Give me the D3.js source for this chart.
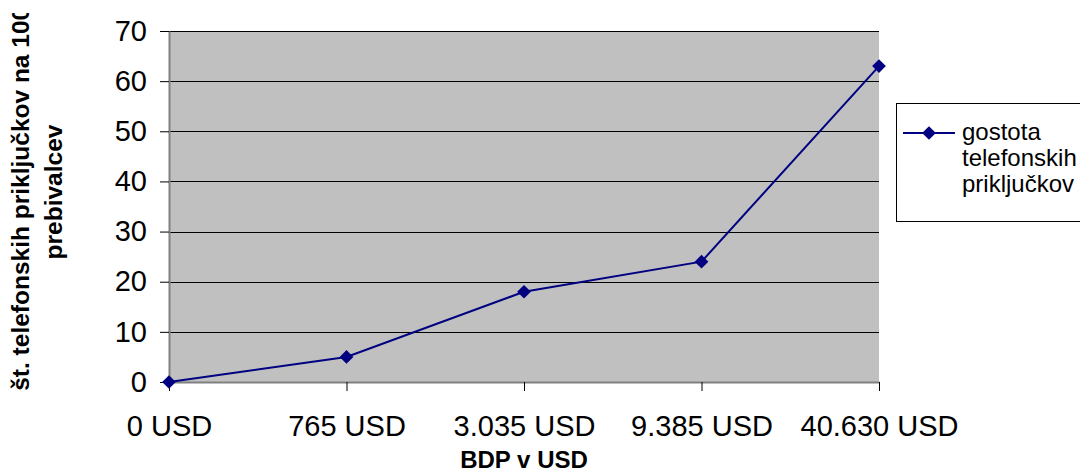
<!DOCTYPE html>
<html>
<head>
<meta charset="utf-8">
<script src="https://cdn.jsdelivr.net/npm/d3@7"></script>
<style>
  html, body { margin: 0; padding: 0; background: #fff; overflow: hidden; }
  svg { display: block; font-family: "Liberation Sans", Arial, sans-serif; }
</style>
</head>
<body>
<svg id="chart" width="1080" height="471"></svg>
<script>
// GDP categories and telephone line density (lines per 1000 inhabitants)
const categories = ["0 USD", "765 USD", "3.035 USD", "9.385 USD", "40.630 USD"];
const density = [0, 5, 18, 24, 63];
const yTicks = [0, 10, 20, 30, 40, 50, 60, 70];
const seriesName = ["gostota", "telefonskih", "priključkov"];
const xTitle = "BDP v USD";
const yTitle = ["št. telefonskih priključkov na 1000", "prebivalcev"];

const svg = d3.select("#chart");
const plot = { left: 169, right: 879, top: 31, bottom: 382 };
const navy = "#000080";

const x = d3.scalePoint().domain(categories).range([plot.left, plot.right]).padding(0);
const y = d3.scaleLinear().domain([0, 70]).range([plot.bottom, plot.top]);

// plot area background
svg.append("rect")
  .attr("x", plot.left).attr("y", plot.top)
  .attr("width", plot.right - plot.left).attr("height", plot.bottom - plot.top)
  .attr("fill", "#c0c0c0");

// horizontal gridlines
svg.append("g")
  .selectAll("line")
  .data(yTicks.filter(d => d > 0))
  .join("line")
  .attr("x1", plot.left).attr("x2", plot.right)
  .attr("y1", d => Math.round(y(d)) + 0.5).attr("y2", d => Math.round(y(d)) + 0.5)
  .attr("stroke", "#000").attr("stroke-width", 1);

// y axis
const yAxis = svg.append("g")
  .attr("transform", `translate(${plot.left},0)`)
  .call(d3.axisLeft(y).tickValues(yTicks).tickSize(9).tickPadding(13).tickSizeOuter(0));
yAxis.select(".domain").attr("stroke", "#808080").attr("stroke-width", 2);
yAxis.selectAll(".tick line").attr("stroke", "#000");
yAxis.selectAll(".tick text")
  .attr("font-size", 29).attr("fill", "#000")
  .attr("font-family", "'Liberation Sans', Arial, sans-serif");

// x axis
const xAxis = svg.append("g")
  .attr("transform", `translate(0,${plot.bottom})`)
  .call(d3.axisBottom(x).tickSize(9).tickPadding(24).tickSizeOuter(0));
xAxis.select(".domain").attr("stroke", "#808080").attr("stroke-width", 2);
xAxis.selectAll(".tick line").attr("stroke", "#000");
xAxis.selectAll(".tick text")
  .attr("font-size", 29).attr("fill", "#000")
  .attr("font-family", "'Liberation Sans', Arial, sans-serif");

// data line
const line = d3.line().x((d, i) => x(categories[i])).y(d => y(d));
svg.append("path")
  .datum(density)
  .attr("d", line)
  .attr("fill", "none")
  .attr("stroke", navy)
  .attr("stroke-width", 2);

// diamond markers
const diamond = d3.symbol().type(d3.symbolDiamond2).size(120);
svg.append("g")
  .selectAll("path")
  .data(density)
  .join("path")
  .attr("d", diamond)
  .attr("transform", (d, i) => `translate(${x(categories[i])},${y(d)})`)
  .attr("fill", navy);

// axis titles
svg.append("text")
  .attr("x", (plot.left + plot.right) / 2).attr("y", 468)
  .attr("text-anchor", "middle")
  .attr("font-size", 24).attr("font-weight", "bold")
  .text(xTitle);

// the vertical title is clipped by the chart area's top edge
svg.append("clipPath").attr("id", "chartArea")
  .append("rect").attr("x", 0).attr("y", 13).attr("width", 1080).attr("height", 458);

const yt = svg.append("g")
  .attr("clip-path", "url(#chartArea)")
  .append("text")
  .attr("transform", "translate(29,192) rotate(-90)")
  .attr("text-anchor", "middle")
  .attr("font-size", 24.5).attr("font-weight", "bold");
yTitle.forEach((t, i) => {
  yt.append("tspan").attr("x", 0).attr("y", i * 33).text(t);
});

// legend
const legend = svg.append("g");
legend.append("rect")
  .attr("x", 896.5).attr("y", 103.5)
  .attr("width", 200).attr("height", 118)
  .attr("fill", "#fff").attr("stroke", "#000").attr("stroke-width", 1);
legend.append("line")
  .attr("x1", 903).attr("x2", 955).attr("y1", 133).attr("y2", 133)
  .attr("stroke", navy).attr("stroke-width", 2);
legend.append("path")
  .attr("d", diamond)
  .attr("transform", "translate(929,133)")
  .attr("fill", navy);
legend.append("g")
  .selectAll("text")
  .data(seriesName)
  .join("text")
  .attr("x", 962)
  .attr("y", (d, i) => 140 + i * 26)
  .attr("font-size", 24)
  .text(d => d);
</script>
</body>
</html>
